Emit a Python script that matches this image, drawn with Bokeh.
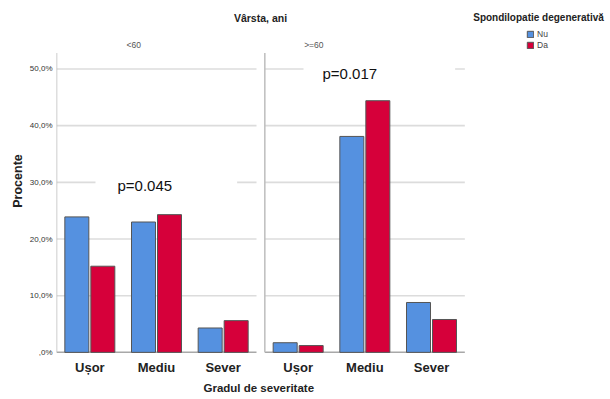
from bokeh.plotting import figure
from bokeh.models import (Range1d, FixedTicker, Label, Legend, LegendItem, Title)
from bokeh.embed import file_html
from bokeh.resources import INLINE

# ---- data ----
categories = ["Ușor", "Mediu", "Sever"]
age_groups = ["<60", ">=60"]
series_names = ["Nu", "Da"]
nu_values = {"<60": [23.9, 23.0, 4.3], ">=60": [1.7, 38.1, 8.8]}
da_values = {"<60": [15.2, 24.3, 5.6], ">=60": [1.2, 44.4, 5.8]}
p_values = ["p=0.045", "p=0.017"]
y_ticks = [0, 10, 20, 30, 40, 50]
y_tick_labels = [",0%", "10,0%", "20,0%", "30,0%", "40,0%", "50,0%"]

# ---- layout constants ----
GAP = 0.125
BAR_W = 0.36
OFF = 0.195
Y_TOP = 52.8          # top of the panel frames (in %)
X_END = 8.28          # frame extends to the right to hold the legend
Y_END = 60.67         # frame extends up to hold the header texts
NCAT = len(categories)
FONT = "Liberation Sans"
BLUE = "#5591E0"
RED = "#D6003A"

panel_start = [i * (NCAT + GAP) for i in range(len(age_groups))]

p = figure(frame_width=552, frame_height=345, output_backend="svg",
           toolbar_location=None,
           x_range=Range1d(0, X_END), y_range=Range1d(-0.2, Y_END),
           min_border_left=56, min_border_right=0, min_border_top=8,
           min_border_bottom=40)
p.outline_line_color = None
p.xgrid.visible = False
p.ygrid.visible = False

# grid lines and panel frames per panel
gx0, gx1, gy = [], [], []
for s in panel_start:
    for t in y_ticks[1:]:
        gx0.append(s); gx1.append(s + NCAT); gy.append(t)
p.segment(x0=gx0, x1=gx1, y0=gy, y1=gy, line_color="#dcdcdc", line_width=1.6)
p.segment(x0=panel_start, x1=[s + NCAT for s in panel_start], y0=[0] * 2, y1=[0] * 2,
          line_color="#a8a8a8", line_width=1.5)
p.segment(x0=panel_start, x1=panel_start, y0=[0] * 2, y1=[Y_TOP] * 2,
          line_color="#bdbdbd", line_width=1.5)

# bars
xs_nu, xs_da, top_nu, top_da = [], [], [], []
for s, g in zip(panel_start, age_groups):
    for i in range(NCAT):
        c = s + i + 0.5
        xs_nu.append(c - OFF); xs_da.append(c + OFF)
        top_nu.append(nu_values[g][i]); top_da.append(da_values[g][i])
r_nu = p.vbar(x=xs_nu, top=top_nu, bottom=0, width=BAR_W, fill_color=BLUE,
              line_color="#555555", line_width=1)
r_da = p.vbar(x=xs_da, top=top_da, bottom=0, width=BAR_W, fill_color=RED,
              line_color="#555555", line_width=1)

# axes
tick_pos = [s + i + 0.5 for s in panel_start for i in range(NCAT)]
p.xaxis.ticker = FixedTicker(ticks=tick_pos)
p.xaxis.major_label_overrides = {t: categories[k % NCAT] for k, t in enumerate(tick_pos)}
p.xaxis.axis_line_color = None
p.xaxis.major_tick_line_color = None
p.xaxis.minor_tick_line_color = None
p.xaxis.major_tick_out = 0
p.xaxis.major_tick_in = 0
p.xaxis.minor_tick_out = 0
p.xaxis.major_label_text_font = FONT
p.xaxis.major_label_text_font_style = "bold"
p.xaxis.major_label_text_font_size = "13px"
p.xaxis.major_label_text_color = "#222222"
p.xaxis.major_label_standoff = 6

p.add_layout(Title(text="Gradul de severitate", align="left", offset=147,
                   text_font=FONT, text_font_style="bold",
                   text_font_size="11.5px", text_color="#222222",
                   standoff=4), "below")

p.yaxis.ticker = FixedTicker(ticks=y_ticks)
p.yaxis.major_label_overrides = dict(zip(y_ticks, y_tick_labels))
p.yaxis.axis_line_color = None
p.yaxis.major_tick_line_color = None
p.yaxis.minor_tick_line_color = None
p.yaxis.major_tick_out = 0
p.yaxis.major_tick_in = 0
p.yaxis.minor_tick_out = 0
p.yaxis.major_label_text_font = FONT
p.yaxis.major_label_text_font_size = "8px"
p.yaxis.major_label_text_color = "#333333"
p.yaxis.major_label_standoff = 4
p.yaxis.axis_label = "Procente"
p.yaxis.axis_label_text_font = FONT
p.yaxis.axis_label_text_font_style = "bold"
p.yaxis.axis_label_text_font_size = "12.5px"
p.yaxis.axis_label_text_color = "#222222"
p.yaxis.axis_label_standoff = 2

# header texts (screen units relative to frame bottom-left)
p.add_layout(Label(x=204, y=336, x_units="screen", y_units="screen",
                   text="Vârsta, ani", text_font=FONT, text_font_style="bold",
                   text_font_size="10.5px", text_color="#222222",
                   text_align="center", text_baseline="middle"))
facet_x = [1.16, 3.86]
for fx, g in zip(facet_x, age_groups):
    p.add_layout(Label(x=fx, y=309, y_units="screen", text=g, text_font=FONT,
                       text_font_size="8.5px", text_color="#555555",
                       text_align="center", text_baseline="middle"))

# p-values with white boxes (x = left edge of the white box)
p.add_layout(Label(x=0.585, y=29.45, text=p_values[0], text_font=FONT,
                   text_font_size="15px", text_color="#111111",
                   text_align="left", text_baseline="middle",
                   background_fill_color="white",
                   padding=dict(left=22, right=65, top=3, bottom=3)))
p.add_layout(Label(x=3.705, y=49.2, text=p_values[1], text_font=FONT,
                   text_font_size="15px", text_color="#111111",
                   text_align="left", text_baseline="middle",
                   background_fill_color="white",
                   padding=dict(left=19, right=78, top=3, bottom=3)))

# legend
p.add_layout(Label(x=482, y=336, x_units="screen", y_units="screen",
                   text="Spondilopatie degenerativă", text_font=FONT,
                   text_font_style="bold", text_font_size="10px",
                   text_color="#222222", text_align="center",
                   text_baseline="middle"))
legend = Legend(items=[LegendItem(label=series_names[0], renderers=[r_nu]),
                       LegendItem(label=series_names[1], renderers=[r_da])],
                location=(470, 303), glyph_width=8, glyph_height=8,
                label_height=8, label_standoff=3, spacing=1, padding=0,
                margin=0, border_line_color=None, background_fill_alpha=0,
                label_text_font=FONT, label_text_font_size="8.5px",
                label_text_color="#444444")
p.add_layout(legend, "center")

open("out.html", "w").write(file_html(p, INLINE))
